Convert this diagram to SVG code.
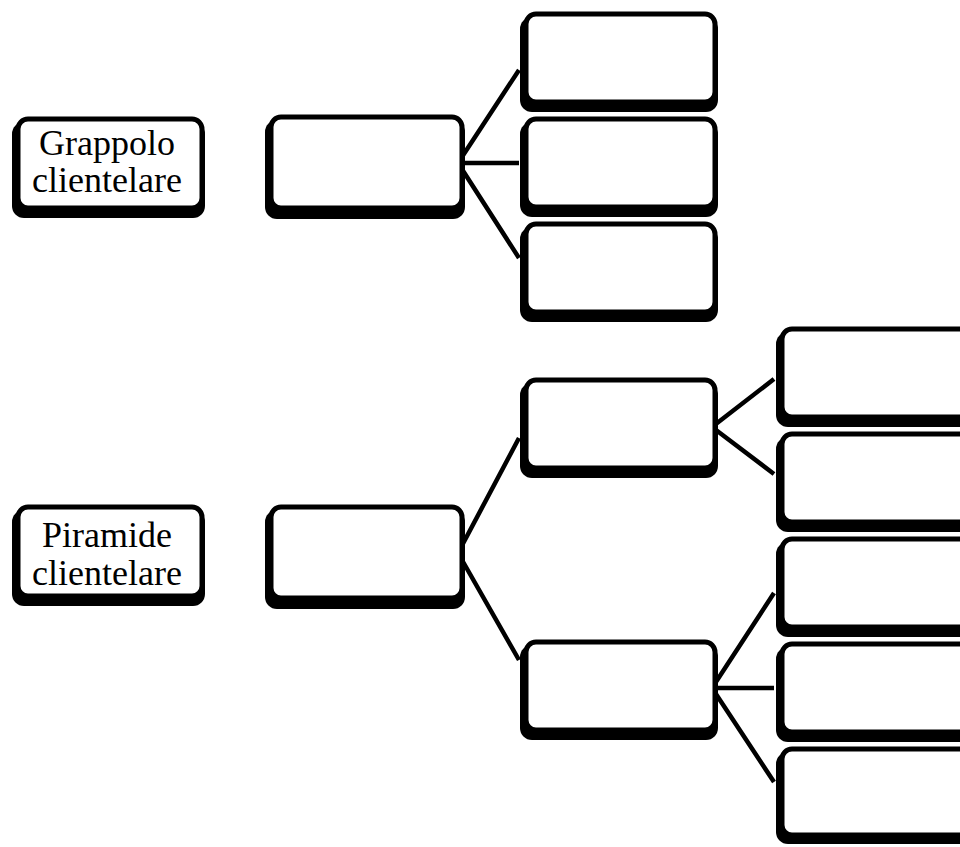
<svg xmlns="http://www.w3.org/2000/svg" width="960" height="847" viewBox="0 0 960 847">
<style>
.sh{fill:#000}
.bx{fill:#fff;stroke:#000;stroke-width:5}
.ln{stroke:#000;stroke-width:4.5;fill:none;stroke-linecap:butt}
.t{font-family:"Liberation Serif","Times New Roman",serif;font-size:36px;fill:#000;text-anchor:middle}
</style>
<g id="connectors">
<path class="ln" d="M458,163 L519,70 M458,163 L519,163 M458,163 L519,258"/>
<path class="ln" d="M458,553 L519,438 M458,553 L519,660"/>
<path class="ln" d="M712,427 L774,379 M712,427 L774,474"/>
<path class="ln" d="M712,688 L774,593 M712,688 L774,688 M712,688 L774,782"/>
</g>
<g id="label1">
<rect class="sh" x="12" y="122" width="193" height="96" rx="12"/>
<rect class="bx" x="18" y="119" width="184" height="89" rx="10"/>
<text class="t" x="107" y="155">Grappolo</text>
<text class="t" x="107" y="192">clientelare</text>
</g>
<g id="label2">
<rect class="sh" x="12" y="510" width="193" height="96" rx="12"/>
<rect class="bx" x="18" y="507" width="184" height="89" rx="10"/>
<text class="t" x="107" y="547">Piramide</text>
<text class="t" x="107" y="585">clientelare</text>
</g>
<g id="nodeA">
<rect class="sh" x="265" y="120" width="200" height="99" rx="12"/>
<rect class="bx" x="271" y="117" width="191" height="91" rx="10"/>
</g>
<g id="nodeB">
<rect class="sh" x="265" y="510" width="200" height="99" rx="12"/>
<rect class="bx" x="271" y="507" width="191" height="91" rx="10"/>
</g>
<g id="c1">
<rect class="sh" x="520" y="17" width="198" height="95" rx="12"/>
<rect class="bx" x="526" y="14" width="189" height="88" rx="10"/>
</g>
<g id="c2">
<rect class="sh" x="520" y="122" width="198" height="95" rx="12"/>
<rect class="bx" x="526" y="119" width="189" height="88" rx="10"/>
</g>
<g id="c3">
<rect class="sh" x="520" y="227" width="198" height="95" rx="12"/>
<rect class="bx" x="526" y="224" width="189" height="88" rx="10"/>
</g>
<g id="m1">
<rect class="sh" x="520" y="383" width="198" height="95" rx="12"/>
<rect class="bx" x="526" y="380" width="189" height="88" rx="10"/>
</g>
<g id="m2">
<rect class="sh" x="520" y="645" width="198" height="95" rx="12"/>
<rect class="bx" x="526" y="642" width="189" height="88" rx="10"/>
</g>
<g id="l1">
<rect class="sh" x="776" y="332" width="200" height="95" rx="12"/>
<rect class="bx" x="782" y="329" width="191" height="88" rx="10"/>
</g>
<g id="l2">
<rect class="sh" x="776" y="437" width="200" height="95" rx="12"/>
<rect class="bx" x="782" y="434" width="191" height="88" rx="10"/>
</g>
<g id="l3">
<rect class="sh" x="776" y="542" width="200" height="95" rx="12"/>
<rect class="bx" x="782" y="539" width="191" height="88" rx="10"/>
</g>
<g id="l4">
<rect class="sh" x="776" y="647" width="200" height="95" rx="12"/>
<rect class="bx" x="782" y="644" width="191" height="88" rx="10"/>
</g>
<g id="l5">
<rect class="sh" x="776" y="752" width="200" height="92" rx="12"/>
<rect class="bx" x="782" y="749" width="191" height="86" rx="10"/>
</g>
</svg>
